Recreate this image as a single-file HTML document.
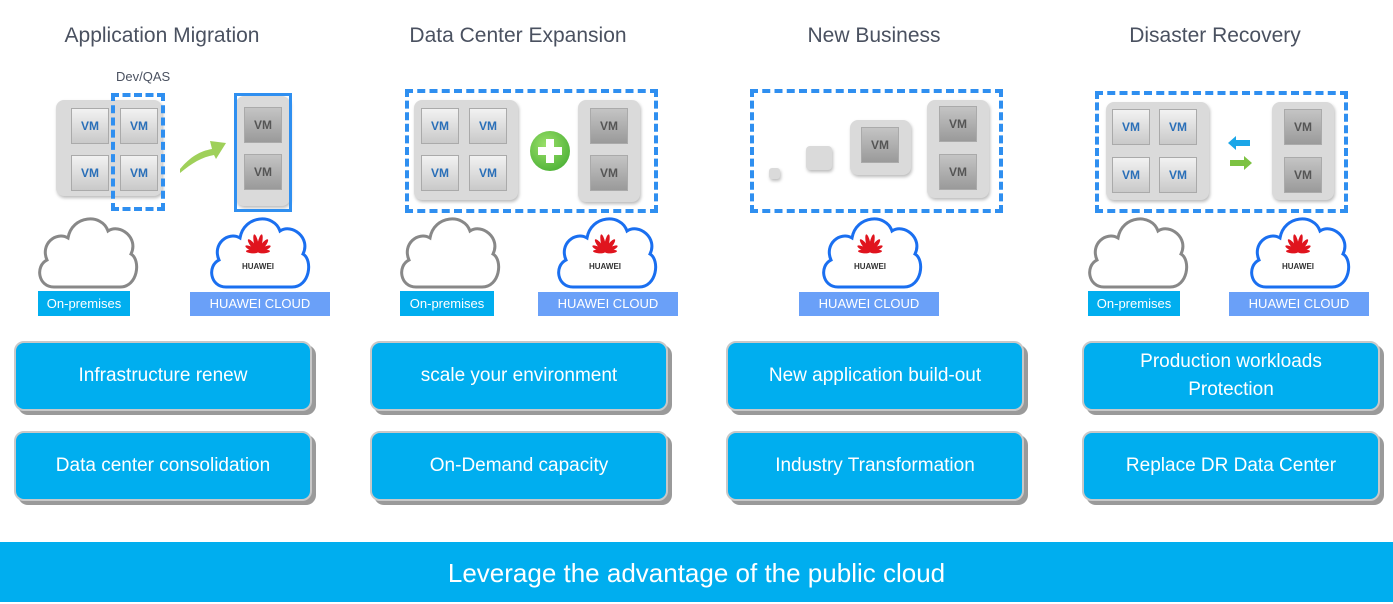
<!DOCTYPE html>
<html><head><meta charset="utf-8"><style>
body{margin:0;width:1393px;height:602px;background:#fff;position:relative;overflow:hidden;font-family:"Liberation Sans",sans-serif}
.a{position:absolute}
.t{position:absolute;font-size:21px;color:#4a5160;text-align:center;width:300px;top:24px}
.g{position:absolute;background:#dadada;border-radius:8px;box-shadow:1px 2px 3px #bbb}
.vm{position:absolute;width:36px;height:34px;background:linear-gradient(#f2f2f2,#c9c9c9);border:1px solid #aaa;font:bold 12px "Liberation Sans",sans-serif;color:#2a6fb8;text-align:center;line-height:34px}
.vd{background:linear-gradient(#c4c4c4,#9a9a9a);color:#555}
.d{position:absolute;border:4px dashed #2f8ff0}
.btn{position:absolute;width:294px;height:66px;background:#00aeef;border:2px solid #c8c8c8;border-radius:10px;box-shadow:4px 4px 0 #9a9a9a;color:#fff;font-size:19px;display:flex;align-items:center;justify-content:center;text-align:center;line-height:28px}
.lp{position:absolute;height:25px;background:#00aeef;color:#fff;font-size:13px;text-align:center;line-height:25px}
.lh{position:absolute;height:24px;background:#6aa0f8;color:#fff;font-size:13px;text-align:center;line-height:24px;width:140px}
.cl{position:absolute;width:106px;height:78px;overflow:visible}
</style></head><body>
<svg width="0" height="0" style="position:absolute"><defs>
<path id="cp" d="M20,73 C4,73 1,52 13,46 C6,30 22,17 34,24 C38,1 68,-1 74,17 C86,9 105,24 97,40 C107,46 104,73 86,73 Z"/>
<g id="hw"><g fill="#e0141e" transform="translate(52,38)">
<ellipse cx="0" cy="-9" rx="2.2" ry="9" transform="rotate(-12)"/><ellipse cx="0" cy="-9" rx="2.2" ry="9" transform="rotate(12)"/>
<ellipse cx="0" cy="-8" rx="2.2" ry="8" transform="rotate(-38)"/><ellipse cx="0" cy="-8" rx="2.2" ry="8" transform="rotate(38)"/>
<ellipse cx="0" cy="-7" rx="2" ry="7" transform="rotate(-64)"/><ellipse cx="0" cy="-7" rx="2" ry="7" transform="rotate(64)"/>
<ellipse cx="0" cy="-6" rx="1.8" ry="6" transform="rotate(-86)"/><ellipse cx="0" cy="-6" rx="1.8" ry="6" transform="rotate(86)"/></g>
<text x="52" y="55" font-size="8" font-weight="bold" fill="#333" text-anchor="middle" font-family="Liberation Sans">HUAWEI</text></g>
</defs></svg>

<div class="t" style="left:12px">Application Migration</div>
<div class="t" style="left:368px">Data Center Expansion</div>
<div class="t" style="left:724px">New Business</div>
<div class="t" style="left:1065px">Disaster Recovery</div>

<!-- col1 -->
<div class="a" style="left:116px;top:69px;font-size:13px;color:#4a5160">Dev/QAS</div>
<div class="g" style="left:56px;top:100px;width:106px;height:96px"></div>
<div class="vm" style="left:71px;top:108px">VM</div><div class="vm" style="left:120px;top:108px">VM</div>
<div class="vm" style="left:71px;top:155px">VM</div><div class="vm" style="left:120px;top:155px">VM</div>
<div class="d" style="left:111px;top:93px;width:46px;height:110px"></div>
<svg class="a" style="left:178px;top:135px" width="50" height="40"><path d="M2,34 C12,22 22,16 34,14 L32,6 L48,8 L38,24 L36,20 C24,22 14,28 2,38Z" fill="#9fd05a"/></svg>
<div class="g" style="left:236px;top:96px;width:54px;height:110px"></div>
<div class="vm vd" style="left:244px;top:107px">VM</div><div class="vm vd" style="left:244px;top:154px">VM</div>
<div class="a" style="left:234px;top:93px;width:52px;height:113px;border:3px solid #2f8ff0"></div>
<svg class="cl" style="left:34px;top:214px"><use href="#cp" fill="#fff" stroke="#888" stroke-width="3"/></svg>
<div class="lp" style="left:38px;top:291px;width:92px">On-premises</div>
<svg class="cl" style="left:206px;top:214px"><use href="#cp" fill="#fff" stroke="#1a6ff0" stroke-width="3"/><use href="#hw"/></svg>
<div class="lh" style="left:190px;top:292px">HUAWEI CLOUD</div>

<!-- col2 -->
<div class="g" style="left:414px;top:100px;width:104px;height:100px"></div>
<div class="vm" style="left:421px;top:108px">VM</div><div class="vm" style="left:469px;top:108px">VM</div>
<div class="vm" style="left:421px;top:155px">VM</div><div class="vm" style="left:469px;top:155px">VM</div>
<div class="a" style="left:530px;top:131px;width:40px;height:40px;border-radius:50%;background:radial-gradient(circle at 40% 35%,#9be06a,#3aa62a)"></div>
<div class="a" style="left:546px;top:139px;width:8px;height:24px;background:#fff"></div>
<div class="a" style="left:538px;top:147px;width:24px;height:8px;background:#fff"></div>
<div class="g" style="left:578px;top:100px;width:62px;height:102px"></div>
<div class="vm vd" style="left:590px;top:108px">VM</div><div class="vm vd" style="left:590px;top:155px">VM</div>
<div class="d" style="left:405px;top:89px;width:245px;height:116px"></div>
<svg class="cl" style="left:396px;top:214px"><use href="#cp" fill="#fff" stroke="#888" stroke-width="3"/></svg>
<div class="lp" style="left:400px;top:291px;width:94px">On-premises</div>
<svg class="cl" style="left:553px;top:214px"><use href="#cp" fill="#fff" stroke="#1a6ff0" stroke-width="3"/><use href="#hw"/></svg>
<div class="lh" style="left:538px;top:292px">HUAWEI CLOUD</div>

<!-- col3 -->
<div class="g" style="left:769px;top:168px;width:11px;height:11px;border-radius:3px"></div>
<div class="g" style="left:806px;top:146px;width:26px;height:24px;border-radius:4px"></div>
<div class="g" style="left:850px;top:120px;width:61px;height:55px"></div>
<div class="vm vd" style="left:861px;top:127px">VM</div>
<div class="g" style="left:927px;top:100px;width:62px;height:98px"></div>
<div class="vm vd" style="left:939px;top:106px">VM</div><div class="vm vd" style="left:939px;top:154px">VM</div>
<div class="d" style="left:750px;top:89px;width:245px;height:116px"></div>
<svg class="cl" style="left:818px;top:214px"><use href="#cp" fill="#fff" stroke="#1a6ff0" stroke-width="3"/><use href="#hw"/></svg>
<div class="lh" style="left:799px;top:292px">HUAWEI CLOUD</div>

<!-- col4 -->
<div class="g" style="left:1106px;top:102px;width:103px;height:98px"></div>
<div class="vm" style="left:1112px;top:109px">VM</div><div class="vm" style="left:1159px;top:109px">VM</div>
<div class="vm" style="left:1112px;top:157px">VM</div><div class="vm" style="left:1159px;top:157px">VM</div>
<svg class="a" style="left:1226px;top:135px" width="30" height="40"><path d="M2,8 L10,1 L10,5 L24,5 L24,11 L10,11 L10,15Z" fill="#1aa6e8"/><path d="M26,28 L18,21 L18,25 L4,25 L4,31 L18,31 L18,35Z" fill="#7cc242"/></svg>
<div class="g" style="left:1272px;top:102px;width:62px;height:98px"></div>
<div class="vm vd" style="left:1284px;top:109px">VM</div><div class="vm vd" style="left:1284px;top:157px">VM</div>
<div class="d" style="left:1095px;top:91px;width:245px;height:114px"></div>
<svg class="cl" style="left:1084px;top:214px"><use href="#cp" fill="#fff" stroke="#888" stroke-width="3"/></svg>
<div class="lp" style="left:1088px;top:291px;width:92px">On-premises</div>
<svg class="cl" style="left:1246px;top:214px"><use href="#cp" fill="#fff" stroke="#1a6ff0" stroke-width="3"/><use href="#hw"/></svg>
<div class="lh" style="left:1229px;top:292px">HUAWEI CLOUD</div>

<div class="btn" style="left:14px;top:341px">Infrastructure renew</div>
<div class="btn" style="left:14px;top:431px">Data center consolidation</div>
<div class="btn" style="left:370px;top:341px">scale your environment</div>
<div class="btn" style="left:370px;top:431px">On-Demand capacity</div>
<div class="btn" style="left:726px;top:341px">New application build-out</div>
<div class="btn" style="left:726px;top:431px">Industry Transformation</div>
<div class="btn" style="left:1082px;top:341px">Production workloads<br>Protection</div>
<div class="btn" style="left:1082px;top:431px">Replace DR Data Center</div>

<div class="a" style="left:0;top:542px;width:1393px;height:60px;background:#00aeef;color:#fff;font-size:26px;text-align:center;line-height:62px">Leverage the advantage of the public cloud</div>
</body></html>
